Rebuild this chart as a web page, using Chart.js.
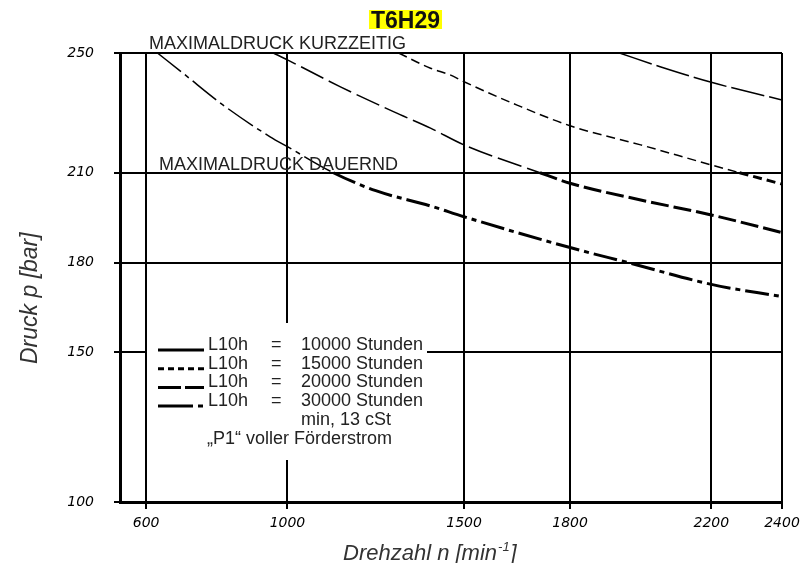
<!DOCTYPE html>
<html>
<head>
<meta charset="utf-8">
<script src="https://cdn.jsdelivr.net/npm/chart.js@4/dist/chart.umd.min.js"></script>
<style>
  html, body { margin: 0; padding: 0; background: #ffffff; }
  #wrap { width: 802px; height: 563px; }
</style>
</head>
<body>
<div id="wrap"><canvas id="c" width="802" height="563"></canvas></div>
<script>
// ---- data ----
const xTicks = [600, 1000, 1500, 1800, 2200, 2400];
const yTicks = [100, 150, 180, 210, 250];

const rpm10000 = [1940, 2055, 2200, 2400];
const p10000   = [250, 245.4, 240.2, 234.3];

const rpm15000 = [1315, 1405, 1460, 1500, 1650, 1800, 2000, 2200, 2280, 2400];
const p15000   = [250, 244.9, 242.7, 240.4, 232.6, 225.7, 219.3, 212.6, 210, 206.2];

const rpm20000 = [960, 1000, 1150, 1300, 1405, 1500, 1715, 1800, 2000, 2200, 2400];
const p20000   = [250, 247.7, 238.7, 230.4, 224.9, 219.3, 210, 206.5, 200.9, 195.9, 190];

const rpm30000 = [632, 705, 818, 951, 1000, 1130, 1250, 1405, 1500, 1800, 1970, 2200, 2400];
const p30000   = [250, 243.2, 232.6, 222.0, 218.7, 210.0, 204.0, 198.9, 195.3, 185.0, 179.8, 172.7, 168.6];

const legendHours = ['10000', '15000', '20000', '30000'];
const titleText = 'T6H29';
const limitShort = 'MAXIMALDRUCK KURZZEITIG';
const limitCont = 'MAXIMALDRUCK DAUERND';
const yTitle = 'Druck p [bar]';
const xTitle = 'Drehzahl n [min';
const xTitleSup = '-1';
const noteViscosity = 'min, 13 cSt';
const noteFlow = '\u201EP1\u201C voller F\u00F6rderstrom';

const LIMIT = 210;

function pts(xs, ys) { return xs.map((x, i) => ({ x: x, y: ys[i] })); }

// dash styles: thin above the continuous limit, heavier below
const styles = [
  { thin: [34, 5], thick: [34, 5] },
  { thin: [9, 5], thick: [9, 5] },
  { thin: [25, 6], thick: [18, 5] },
  { thin: [30, 5, 5, 5], thick: [24, 5, 5, 5] }
];

function below(ctx) {
  return ctx.p0.parsed.y <= LIMIT + 0.01 && ctx.p1.parsed.y <= LIMIT + 0.01;
}

function makeDs(label, xs, ys, st) {
  return {
    label: label,
    data: pts(xs, ys),
    borderColor: '#000',
    borderWidth: 1.5,
    borderDash: st.thin,
    pointRadius: 0,
    fill: false,
    cubicInterpolationMode: 'monotone',
    segment: {
      borderWidth: ctx => below(ctx) ? 3 : 1.5,
      borderDash: ctx => below(ctx) ? st.thick : st.thin
    }
  };
}

const textPlugin = {
  id: 'texts',
  afterDatasetsDraw(chart) {
    const ctx = chart.ctx;
    ctx.save();
    // legend box (white) covering grid lines
    ctx.fillStyle = '#ffffff';
    ctx.fillRect(147, 323, 280, 137);

    // legend samples
    ctx.strokeStyle = '#000';
    ctx.lineWidth = 3;
    const rows = [350, 368.7, 387.4, 406.1];
    const samples = [[], [6, 4], [23, 4], [35, 5, 5, 5]];
    rows.forEach((y, i) => {
      ctx.setLineDash(samples[i]);
      ctx.beginPath();
      ctx.moveTo(158, y);
      ctx.lineTo(204, y);
      ctx.stroke();
    });
    ctx.setLineDash([]);

    ctx.fillStyle = '#222';
    ctx.font = '18px "Liberation Sans", Arial, sans-serif';
    ctx.textBaseline = 'alphabetic';
    ctx.textAlign = 'left';
    rows.forEach((y, i) => {
      ctx.fillText('L10h', 208, y);
      ctx.fillText('=', 271, y);
      ctx.fillText(legendHours[i] + ' Stunden', 301, y);
    });
    ctx.fillText(noteViscosity, 301, 424.8);
    ctx.fillText(noteFlow, 207, 443.5);

    // limit annotations
    ctx.fillText(limitShort, 149, 49);
    ctx.fillText(limitCont, 159, 170);

    // title with highlight
    ctx.font = 'bold 23px "Liberation Sans", Arial, sans-serif';
    const tw = ctx.measureText(titleText).width;
    const cx = 405.5;
    ctx.fillStyle = '#ffff00';
    ctx.fillRect(cx - tw / 2 - 2, 10, tw + 4, 19);
    ctx.fillStyle = '#111';
    ctx.textAlign = 'center';
    ctx.fillText(titleText, cx, 28);

    // axis titles
    ctx.fillStyle = '#333';
    ctx.font = 'italic 22px "Liberation Sans", Arial, sans-serif';
    ctx.textAlign = 'left';
    const w1 = ctx.measureText(xTitle).width;
    ctx.fillText(xTitle, 343, 560);
    ctx.font = 'italic 13px "Liberation Sans", Arial, sans-serif';
    const w2 = ctx.measureText(xTitleSup).width;
    ctx.fillText(xTitleSup, 343 + w1 + 1, 551);
    ctx.font = 'italic 22px "Liberation Sans", Arial, sans-serif';
    ctx.fillText(']', 343 + w1 + w2 + 2, 560);

    ctx.translate(37, 364);
    ctx.rotate(-Math.PI / 2);
    ctx.font = 'italic 23px "Liberation Sans", Arial, sans-serif';
    ctx.fillText(yTitle, 0, 0);
    ctx.restore();
  }
};

new Chart(document.getElementById('c'), {
  type: 'line',
  data: {
    datasets: [
      makeDs('L10h = 10000 Stunden', rpm10000, p10000, styles[0]),
      makeDs('L10h = 15000 Stunden', rpm15000, p15000, styles[1]),
      makeDs('L10h = 20000 Stunden', rpm20000, p20000, styles[2]),
      makeDs('L10h = 30000 Stunden', rpm30000, p30000, styles[3])
    ]
  },
  options: {
    responsive: false,
    animation: false,
    devicePixelRatio: 1,
    layout: { padding: { top: 53, right: 20, left: 0, bottom: 0 } },
    plugins: { legend: { display: false }, title: { display: false }, tooltip: { enabled: false } },
    scales: {
      x: {
        type: 'linear',
        min: 526,
        max: 2400,
        afterBuildTicks: s => { s.ticks = xTicks.map(v => ({ value: v })); },
        afterFit: s => { s.height = 61; s.paddingLeft = 0; s.paddingRight = 0; },
        ticks: {
          autoSkip: false, maxRotation: 0, padding: 6, color: '#000',
          font: { family: '"DejaVu Sans"', style: 'italic', size: 14 },
          callback: v => String(v)
        },
        grid: { color: '#000', lineWidth: 2, tickLength: 7 },
        border: { color: '#000', width: 3 }
      },
      y: {
        type: 'linear',
        min: 100,
        max: 250,
        afterBuildTicks: s => { s.ticks = yTicks.map(v => ({ value: v })); },
        afterFit: s => { s.width = 120; s.paddingTop = 0; s.paddingBottom = 0; },
        ticks: {
          autoSkip: false, padding: 20, color: '#000',
          font: { family: '"DejaVu Sans"', style: 'italic', size: 14 },
          callback: v => String(v)
        },
        grid: { color: '#000', lineWidth: 2, tickLength: 6 },
        border: { color: '#000', width: 3 }
      }
    }
  },
  plugins: [textPlugin]
});
</script>
</body>
</html>
